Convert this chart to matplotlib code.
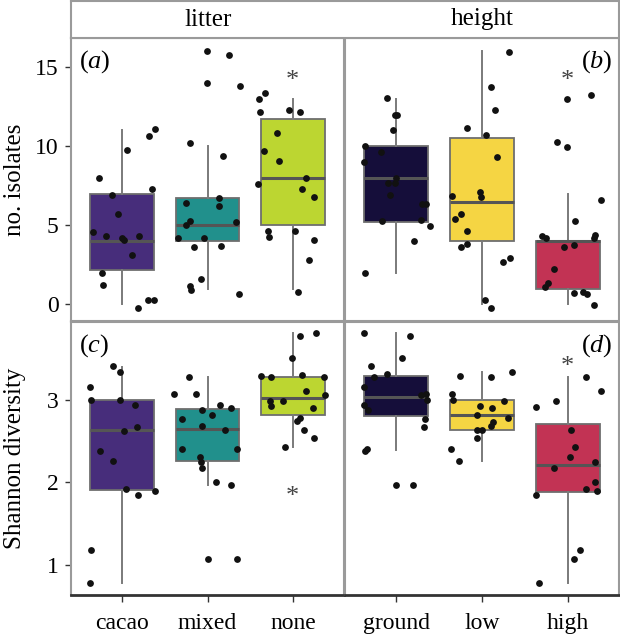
import matplotlib.pyplot as plt

plt.rcParams['font.family'] = ['Liberation Serif', 'DejaVu Serif']
plt.rcParams['mathtext.fontset'] = 'custom'
plt.rcParams['mathtext.rm'] = 'Liberation Serif'
plt.rcParams['mathtext.it'] = 'Liberation Serif:italic'

litter = ["cacao", "mixed", "none"]
height = ["ground", "low", "high"]
litter_cols = ["#472d7b", "#21908c", "#bcd631"]
height_cols = ["#150e3a", "#f5d543", "#c23354"]

# box stats: (whislo, q1, med, q3, whishi)
iso_litter_box = [(0, 2.2, 4, 7, 11), (1, 4, 5, 6.73, 10), (1, 5, 8, 11.73, 13)]
iso_height_box = [(2, 5.2, 8, 10, 13), (0, 4, 6.5, 10.5, 16), (0, 1, 4, 4, 7)]
sha_litter_box = [(0.79, 1.91, 2.63, 3.0, 3.40), (1.97, 2.26, 2.65, 2.89, 3.27),
                  (2.43, 2.81, 3.02, 3.28, 3.81)]
sha_height_box = [(2.39, 2.80, 3.03, 3.29, 3.81), (2.26, 2.63, 2.81, 3.0, 3.33),
                  (0.79, 1.88, 2.21, 2.71, 3.27)]

# jittered points: values and horizontal jitter (category units)
iso_cacao = [8, 6.9, 5.7, 4.6, 4.3, 4.2, 4.1, 4.3, 3.1, 2, 1.2, -0.2, 0.25, 0.25, 9.77, 10.65, 11.1, 7.3]
iso_cacao_dx = [-0.27, -0.12, -0.05, -0.34, -0.19, 0.0, 0.02, 0.2, 0.11, -0.24, -0.23, 0.18, 0.3, 0.37, 0.06, 0.32, 0.38, 0.35]
iso_mixed = [16, 15.8, 14, 13.8, 10.2, 9.4, 6.7, 6.2, 6.4, 5.3, 5.0, 5.2, 4.2, 4.2, 3.6, 3.7, 1.6, 1.14, 0.93, 0.65]
iso_mixed_dx = [-0.01, 0.25, -0.01, 0.38, -0.21, 0.18, 0.14, 0.14, -0.25, -0.21, -0.25, 0.33, -0.34, -0.04, -0.16, 0.16, -0.08, -0.2, -0.19, 0.37]
iso_none = [13, 13.35, 12.2, 12.3, 12.2, 10.85, 9.7, 9.07, 7.6, 8.0, 7.3, 6.8, 4.66, 4.26, 4.64, 4.1, 2.8, 0.78]
iso_none_dx = [-0.4, -0.33, -0.39, -0.05, 0.08, -0.18, -0.34, -0.16, -0.41, 0.16, 0.11, 0.25, -0.29, -0.28, 0.03, 0.25, 0.19, 0.06]
iso_ground = [13.06, 12, 11.96, 11.03, 10, 9.03, 9.62, 7.97, 7.66, 7.66, 6.92, 6.33, 6.33, 5.3, 5.32, 4.98, 4.03, 1.98]
iso_ground_dx = [-0.11, -0.02, 0.01, -0.04, -0.37, -0.38, -0.18, -0.01, -0.1, -0.02, -0.07, 0.3, 0.35, -0.17, 0.29, 0.39, 0.21, -0.37]
iso_low = [15.95, 13.76, 12.3, 11.14, 10.7, 9.35, 6.88, 7.13, 6.77, 5.72, 5.38, 4.66, 3.65, 3.82, 2.66, 2.93, 0.3, -0.21]
iso_low_dx = [0.31, 0.11, 0.15, -0.18, 0.05, 0.17, -0.35, -0.02, -0.01, -0.25, -0.31, -0.17, -0.24, -0.17, 0.25, 0.33, 0.03, 0.11]
iso_high = [12.97, 13.27, 10.3, 9.98, 6.58, 5.3, 4.35, 4.2, 3.6, 3.78, 4.18, 4.37, 2.26, 1.35, 1.1, 0.7, 0.8, 0.63, -0.06]
iso_high_dx = [-0.01, 0.27, -0.12, -0.01, 0.39, 0.09, -0.3, -0.25, -0.04, 0.08, 0.31, 0.32, -0.16, -0.23, -0.27, 0.07, 0.18, 0.23, 0.31]

sha_cacao = [3.41, 3.33, 3.15, 3.0, 3.0, 2.94, 2.62, 2.67, 2.38, 2.26, 1.92, 1.85, 1.9, 1.18, 0.79]
sha_cacao_dx = [-0.11, -0.03, -0.38, -0.36, -0.02, 0.15, 0.02, 0.17, -0.26, -0.11, 0.05, 0.19, 0.39, -0.37, -0.38]
sha_mixed = [3.28, 3.07, 3.07, 2.94, 2.88, 2.9, 2.81, 2.77, 2.68, 2.63, 2.41, 2.4, 2.31, 2.25, 2.17, 2.0, 1.97, 1.07, 1.07]
sha_mixed_dx = [-0.22, -0.39, -0.13, 0.15, -0.07, 0.28, 0.05, -0.3, -0.06, 0.2, -0.3, 0.34, -0.09, -0.08, -0.06, 0.1, 0.28, 0.0, 0.34]
sha_none = [3.81, 3.77, 3.5, 3.29, 3.28, 3.3, 3.27, 3.1, 3.06, 2.98, 2.99, 2.92, 2.9, 2.78, 2.74, 2.64, 2.54, 2.43]
sha_none_dx = [0.27, 0.08, -0.01, -0.37, -0.25, 0.11, 0.37, 0.16, 0.38, -0.27, -0.11, -0.25, 0.24, 0.09, 0.05, 0.13, 0.25, -0.09]
sha_ground = [3.81, 3.77, 3.5, 3.41, 3.28, 3.31, 3.15, 3.06, 3.07, 3.0, 2.94, 2.88, 2.77, 2.67, 2.38, 2.4, 1.97, 1.97]
sha_ground_dx = [-0.38, 0.16, 0.06, -0.3, -0.26, -0.11, -0.38, 0.29, 0.35, 0.36, -0.38, -0.33, 0.34, 0.32, -0.37, -0.34, 0.0, 0.2]
sha_low = [3.34, 3.29, 3.28, 3.07, 3.0, 2.99, 2.93, 2.9, 2.81, 2.78, 2.73, 2.68, 2.63, 2.63, 2.54, 2.4, 2.26]
sha_low_dx = [0.35, -0.26, 0.1, -0.35, -0.34, 0.26, -0.02, 0.12, -0.06, 0.3, 0.13, 0.11, -0.06, 0.0, -0.06, -0.36, -0.27]
sha_high = [3.27, 3.1, 2.91, 2.98, 2.64, 2.43, 2.31, 2.17, 2.25, 2.0, 1.92, 1.9, 1.85, 1.18, 1.07, 0.79]
sha_high_dx = [0.21, 0.39, -0.37, -0.13, 0.04, 0.09, 0.03, -0.16, 0.32, 0.32, 0.21, 0.34, -0.37, 0.14, 0.08, -0.34]

# significance asterisks: (category index, y)
star_a = [(2, 14.45)]
star_b = [(2, 14.45)]
star_c = [(2, 1.89)]
star_d = [(2, 3.46)]

fig = plt.figure(figsize=(6.2, 6.37), dpi=100)
W, H = 620, 637


def px(x0, y0, x1, y1):
    return [x0 / W, 1 - y1 / H, (x1 - x0) / W, (y1 - y0) / H]


ax_a = fig.add_axes(px(71, 38, 344, 321))
ax_b = fig.add_axes(px(345, 38, 619, 321))
ax_c = fig.add_axes(px(71, 322, 344, 595))
ax_d = fig.add_axes(px(345, 322, 619, 595))
strip = fig.add_axes(px(71, 1, 619, 38))


def panel(ax, boxes, cols, pts, stars, label, label_right, ylim, label_y):
    stats = []
    for b in boxes:
        stats.append(dict(whislo=b[0], q1=b[1], med=b[2], q3=b[3], whishi=b[4], fliers=[]))
    bp = ax.bxp(stats, positions=[1, 2, 3], widths=0.75, patch_artist=True,
                showcaps=False,
                boxprops=dict(edgecolor="#6e6e6e", linewidth=1.3),
                whiskerprops=dict(color="#7a7a7a", linewidth=1.4),
                medianprops=dict(color="#555555", linewidth=2.2))
    for patch, c in zip(bp["boxes"], cols):
        patch.set_facecolor(c)
    for i, (vals, dx) in enumerate(pts):
        xs = [i + 1 + d for d in dx]
        ax.scatter(xs, vals, s=24, color="#111111", zorder=5, linewidths=0)
    for i, y in stars:
        # asterisk glyph sits high in its box, so nudge it down a little
        ax.annotate("*", (i + 1, y), xytext=(0, -4), textcoords="offset points",
                    ha="center", va="center", fontsize=19, color="#444444")
    ax.set_xlim(0.4, 3.6)
    ax.set_ylim(*ylim)
    for s in ax.spines.values():
        s.set_color("#9a9a9a")
        s.set_linewidth(1.5)
    if label_right:
        ax.text(0.975, label_y, label, transform=ax.transAxes, ha="right", va="center", fontsize=19)
    else:
        ax.text(0.03, label_y, label, transform=ax.transAxes, ha="left", va="center", fontsize=19)


panel(ax_a, iso_litter_box, litter_cols,
      [(iso_cacao, iso_cacao_dx), (iso_mixed, iso_mixed_dx), (iso_none, iso_none_dx)],
      star_a, r"$(\mathit{a})$", False, (-1.05, 16.85), 0.915)
panel(ax_b, iso_height_box, height_cols,
      [(iso_ground, iso_ground_dx), (iso_low, iso_low_dx), (iso_high, iso_high_dx)],
      star_b, r"$(\mathit{b})$", True, (-1.05, 16.85), 0.915)
panel(ax_c, sha_litter_box, litter_cols,
      [(sha_cacao, sha_cacao_dx), (sha_mixed, sha_mixed_dx), (sha_none, sha_none_dx)],
      star_c, r"$(\mathit{c})$", False, (0.64, 3.94), 0.915)
panel(ax_d, sha_height_box, height_cols,
      [(sha_ground, sha_ground_dx), (sha_low, sha_low_dx), (sha_high, sha_high_dx)],
      star_d, r"$(\mathit{d})$", True, (0.64, 3.94), 0.915)

for ax in (ax_a, ax_c):
    ax.tick_params(axis="y", length=4, width=1, color="#333333", labelsize=17, pad=5)
for ax in (ax_b, ax_d):
    ax.tick_params(axis="y", left=False, labelleft=False)
ax_a.set_yticks([0, 5, 10, 15])
ax_c.set_yticks([1, 2, 3])
ax_a.set_ylabel("no. isolates", fontsize=18)
ax_c.set_ylabel("Shannon diversity", fontsize=18)
ax_a.yaxis.set_label_coords(-0.165, 0.5)
ax_c.yaxis.set_label_coords(-0.165, 0.5)

for ax in (ax_a, ax_b):
    ax.set_xticks([1, 2, 3])
    ax.tick_params(axis="x", bottom=False, labelbottom=False)
ax_c.set_xticks([1, 2, 3])
ax_c.set_xticklabels(litter)
ax_d.set_xticks([1, 2, 3])
ax_d.set_xticklabels(height)
for ax in (ax_c, ax_d):
    ax.spines["bottom"].set_color("#333333")
    ax.spines["bottom"].set_linewidth(2)
    ax.tick_params(axis="x", length=5, width=1, color="#333333", labelsize=17, pad=8)

strip.set_xticks([])
strip.set_yticks([])
for s in strip.spines.values():
    s.set_color("#9a9a9a")
    s.set_linewidth(1.5)
strip.text(0.25, 0.5, "litter", ha="center", va="center", fontsize=18, transform=strip.transAxes)
strip.text(0.75, 0.5, "height", ha="center", va="center", fontsize=18, transform=strip.transAxes)

fig.savefig("out.png", dpi=100)
